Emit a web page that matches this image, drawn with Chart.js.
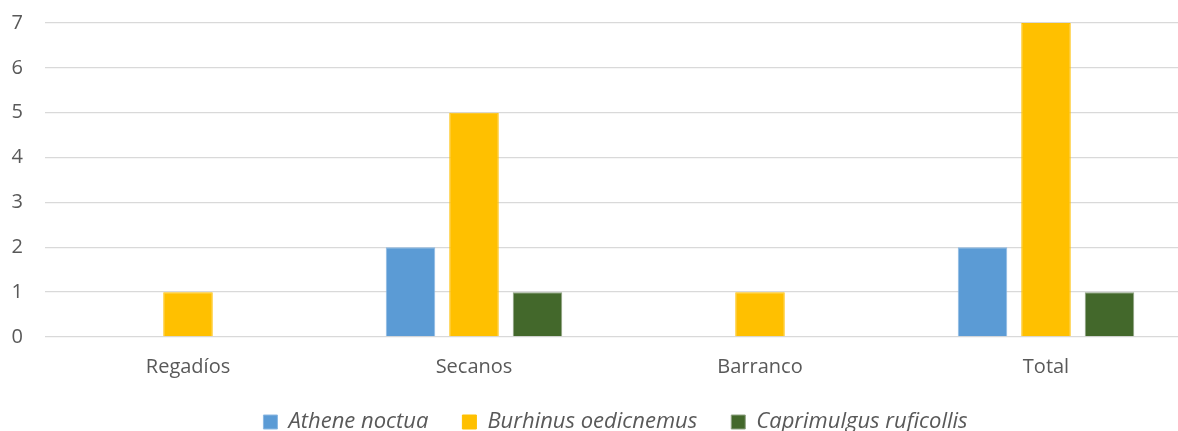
<!DOCTYPE html>
<html><head><meta charset="utf-8">
<script src="https://cdn.jsdelivr.net/npm/chart.js@4"></script>
<style>html,body{margin:0;padding:0;background:#fff}#w{width:1178px;height:431px}</style>
</head><body><div id="w"><canvas id="c"></canvas></div>
<script>
const categories = ["Regadíos", "Secanos", "Barranco", "Total"];
const athene = [0, 2, 0, 2];
const burhinus = [1, 5, 1, 7];
const caprimulgus = [0, 1, 0, 1];
const yTicks = [0, 1, 2, 3, 4, 5, 6, 7];

// The original chart is cropped on the right: the category axis runs past the canvas edge,
// and the legend row sits lower than the default layout would put it.
const layoutTweak = {
  id: 'layoutTweak',
  afterLayout(chart) {
    const x = chart.scales.x;
    x.right = x.left + 1144; x.width = 1144; x.configure();
    const lg = chart.legend;
    if (lg) { lg.top = 377; lg.bottom = 431; lg.height = 54; lg.left = 53; lg.width = lg.right - lg.left; }
  }
};

new Chart(document.getElementById('c'), {
  type: 'bar',
  data: {
    labels: categories,
    datasets: [
      {label: 'Athene noctua', data: athene, backgroundColor: '#5B9BD5', borderColor: '#8CB8E2', borderWidth: 1},
      {label: 'Burhinus oedicnemus', data: burhinus, backgroundColor: '#FFC000', borderColor: '#FFC000', borderWidth: 1},
      {label: 'Caprimulgus ruficollis', data: caprimulgus, backgroundColor: '#43682B', borderColor: '#8FA283', borderWidth: 1}
    ]
  },
  plugins: [layoutTweak],
  options: {
    responsive: true, maintainAspectRatio: false, animation: false,
    categoryPercentage: 0.666, barPercentage: 0.78,
    layout: {padding: {top: 0, right: 0, left: 0, bottom: 0}},
    plugins: {
      tooltip: {enabled: false},
      legend: {
        position: 'bottom',
        maxHeight: 42,
        labels: {
          font: {family: 'Open Sans', size: 22, style: 'italic'},
          color: '#595959', boxWidth: 14, boxHeight: 14, padding: 34
        }
      }
    },
    scales: {
      x: {
        grid: {display: false}, border: {display: false},
        ticks: {font: {family: 'Open Sans', size: 20}, color: '#595959', padding: 10}
      },
      y: {
        min: 0, max: 7,
        afterFit: (s) => { s.width = 45; s.paddingTop = 23; s.paddingBottom = 12; },
        afterBuildTicks: (s) => { s.ticks = yTicks.map(v => ({value: v})); },
        grid: {color: '#D9D9D9', lineWidth: 1.3, drawTicks: false},
        border: {display: false},
        ticks: {font: {family: 'Open Sans', size: 20}, color: '#595959', padding: 22}
      }
    }
  }
});
</script></body></html>
